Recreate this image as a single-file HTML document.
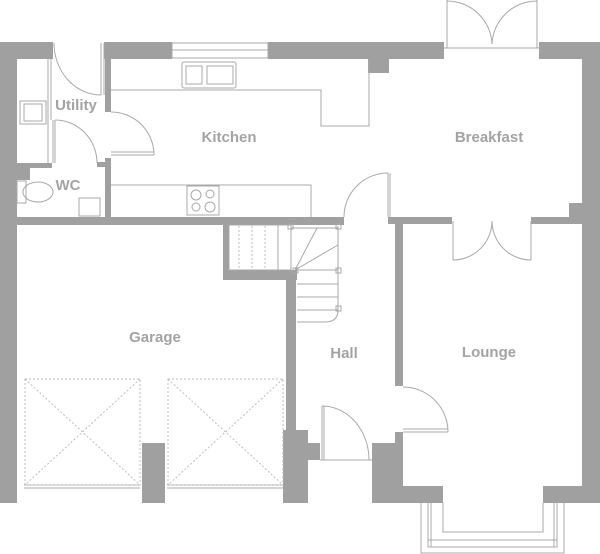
<!DOCTYPE html>
<html><head><meta charset="utf-8"><style>
html,body{margin:0;padding:0;background:#fff;}
svg{display:block}
text{font-family:"Liberation Sans",sans-serif;font-size:15px;font-weight:bold;fill:#a3a3a3;text-anchor:middle}
</style></head><body>
<svg width="600" height="554" viewBox="0 0 600 554" xmlns="http://www.w3.org/2000/svg">
<g fill="#a0a0a0">
<rect x="0" y="42" width="53" height="17"/>
<rect x="104" y="42" width="68" height="17"/>
<rect x="268" y="42" width="176" height="17"/>
<rect x="539" y="42" width="61" height="17"/>
<rect x="368" y="59" width="21" height="14"/>
<rect x="0" y="42" width="17" height="461"/>
<rect x="582" y="42" width="18" height="461"/>
<rect x="105" y="42" width="6" height="70"/>
<rect x="105" y="158" width="6" height="62"/>
<rect x="97" y="162" width="10" height="5"/>
<rect x="17" y="163" width="35" height="5"/>
<rect x="17" y="163" width="13" height="17"/>
<rect x="17" y="217" width="327" height="8"/>
<rect x="388" y="217" width="64" height="7"/>
<rect x="531" y="217" width="51" height="7"/>
<rect x="569" y="203" width="13" height="21"/>
<rect x="223" y="225" width="6" height="55"/>
<rect x="223" y="270" width="74" height="10"/>
<rect x="286" y="270" width="10" height="165"/>
<rect x="283" y="430" width="25" height="73"/>
<rect x="308" y="443" width="12" height="17"/>
<rect x="142" y="443" width="23" height="60"/>
<rect x="395" y="224" width="8" height="162"/>
<rect x="395" y="432" width="8" height="71"/>
<rect x="372" y="443" width="25" height="60"/>
<rect x="395" y="486" width="48" height="17"/>
<rect x="543" y="486" width="57" height="17"/>
</g>
<g fill="none" stroke="#a8a8a8" stroke-width="1">
<rect x="172" y="43" width="96" height="15"/>
<line x1="172" y1="50" x2="268" y2="50"/>
<line x1="101" y1="43" x2="101" y2="95"/><line x1="104" y1="43" x2="104" y2="95"/>
<path d="M54,43 A47,52 0 0 0 101,95"/>
<line x1="111" y1="155" x2="154" y2="155"/><line x1="111" y1="152" x2="154" y2="152"/>
<path d="M111,112 A43,43 0 0 1 154,155"/>
<line x1="53" y1="120" x2="53" y2="163"/><line x1="55" y1="120" x2="55" y2="163"/>
<path d="M55,120 A42,43 0 0 1 97,163"/>
<line x1="48" y1="59" x2="48" y2="163"/><line x1="51" y1="59" x2="51" y2="120"/>
<rect x="20" y="101" width="26" height="23"/><rect x="24" y="104" width="18" height="17"/>
<rect x="17" y="181" width="9" height="22"/>
<ellipse cx="38" cy="192" rx="15" ry="10"/>
<rect x="79" y="198" width="21" height="18"/>
<polyline points="111,90 321,90 321,126 369,126 369,59"/>
<rect x="182" y="62" width="54" height="26" rx="2"/>
<rect x="186" y="66" width="16" height="18"/><rect x="207" y="66" width="26" height="18"/>
<polyline points="111,185 311,185 311,217"/>
<rect x="187" y="186" width="32" height="29"/>
<circle cx="196" cy="195" r="5"/><circle cx="210" cy="194" r="4"/><circle cx="196" cy="207" r="4"/><circle cx="210" cy="207" r="5"/>
<line x1="447" y1="0" x2="447" y2="48"/><line x1="537" y1="0" x2="537" y2="48"/>
<line x1="444" y1="48" x2="539" y2="48"/>
<path d="M447,1 A45,45 0 0 1 492,44"/><path d="M537,1 A45,45 0 0 0 492,44"/>
<line x1="453" y1="221" x2="453" y2="260"/><line x1="531" y1="221" x2="531" y2="260"/>
<path d="M453,260 A39,39 0 0 0 492,221"/><path d="M531,260 A39,39 0 0 1 492,221"/>
<line x1="388" y1="173" x2="388" y2="217"/><line x1="390" y1="173" x2="390" y2="217"/>
<path d="M388,173 A44,44 0 0 0 344,217"/>
<rect x="229" y="225" width="62" height="45"/>
<line x1="278" y1="225" x2="278" y2="270"/>
<line x1="291" y1="228" x2="338" y2="228"/>
<line x1="338" y1="226" x2="338" y2="310"/>
<path d="M338,310 Q338,322 325,322 L297,322"/>
<line x1="295" y1="270" x2="317" y2="228"/><line x1="295" y1="270" x2="338" y2="245"/>
<line x1="295" y1="270" x2="338" y2="270"/>
<line x1="297" y1="284" x2="338" y2="284"/><line x1="297" y1="297" x2="338" y2="297"/><line x1="297" y1="310" x2="338" y2="310"/>
<rect x="288" y="224" width="5" height="5"/><rect x="336" y="224" width="5" height="5"/><rect x="293" y="268" width="5" height="5"/><rect x="336" y="268" width="5" height="5"/><rect x="336" y="306" width="5" height="5"/>
<line x1="322" y1="406" x2="322" y2="460"/><line x1="324" y1="406" x2="324" y2="460"/>
<path d="M322,406 A47,54 0 0 1 369,460"/>
<line x1="320" y1="460" x2="372" y2="460"/>
<line x1="403" y1="432" x2="448" y2="432"/><line x1="403" y1="429" x2="448" y2="429"/>
<path d="M403,387 A45,45 0 0 1 448,432"/>
<line x1="24" y1="485" x2="140" y2="485"/><line x1="24" y1="488" x2="140" y2="488"/>
<line x1="167" y1="485" x2="283" y2="485"/><line x1="167" y1="488" x2="283" y2="488"/>
<polyline points="421,503 421,553 564,553 564,503"/>
<polyline points="443,503 443,532 543,532 543,503"/>
<rect x="428" y="540" width="129" height="7"/>
<line x1="428" y1="503" x2="428" y2="547"/><line x1="431" y1="503" x2="431" y2="547"/>
<line x1="557" y1="503" x2="557" y2="547"/><line x1="554" y1="503" x2="554" y2="547"/>
</g>
<g fill="none" stroke="#bdbdbd" stroke-width="1" stroke-dasharray="2,2">
<line x1="239" y1="226" x2="239" y2="270"/><line x1="252" y1="226" x2="252" y2="270"/><line x1="265" y1="226" x2="265" y2="270"/>
<rect x="25" y="379" width="115" height="106"/>
<line x1="25" y1="379" x2="140" y2="485"/><line x1="140" y1="379" x2="25" y2="485"/>
<rect x="168" y="379" width="115" height="106"/>
<line x1="168" y1="379" x2="283" y2="485"/><line x1="283" y1="379" x2="168" y2="485"/>
</g>
<text x="76" y="110">Utility</text>
<text x="68" y="190">WC</text>
<text x="229" y="142">Kitchen</text>
<text x="489" y="142">Breakfast</text>
<text x="155" y="342">Garage</text>
<text x="344" y="358">Hall</text>
<text x="489" y="357">Lounge</text>
</svg>
</body></html>
